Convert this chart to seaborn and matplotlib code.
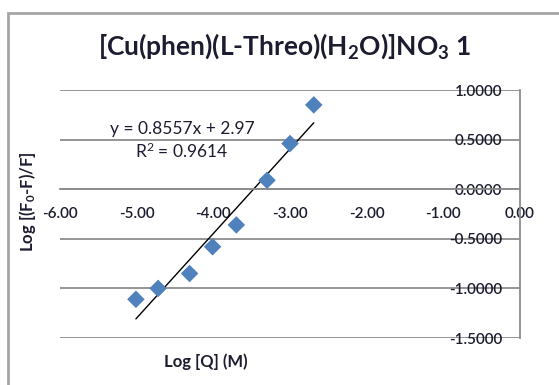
import matplotlib
matplotlib.use('Agg')
import matplotlib.pyplot as plt
import numpy as np
import pandas as pd
import seaborn as sns
from matplotlib.patches import Rectangle

# ─── Data ────────────────────────────────────────────────────────────────────
log_q = [-5.01, -4.72, -4.31, -4.01, -3.70, -3.30, -3.00, -2.69]
log_f = [-1.11, -1.00, -0.85, -0.58, -0.36, 0.09, 0.46, 0.85]
x_ticks = [-6.0, -5.0, -4.0, -3.0, -2.0, -1.0, 0.0]
y_ticks = [-1.5, -1.0, -0.5, 0.0, 0.5, 1.0]
equation = 'y = 0.8557x + 2.97'
r_squared = 'R$^2$ = 0.9614'

df = pd.DataFrame({'logQ': log_q, 'logF': log_f})

sns.set_style('white')
plt.rcParams['font.family'] = ['Lato', 'DejaVu Sans']
plt.rcParams['mathtext.default'] = 'regular'
text_col = '#1c1c30'
grid_col = '#8c8c8c'

fig = plt.figure(figsize=(5.59, 3.85), dpi=100)
ax = fig.add_axes([60 / 559, 1 - 338 / 385, 460 / 559, 248 / 385])

# chart-area border (runs off the right and bottom edges)
fig.patches.append(Rectangle((8 / 559, -0.1), 1.2, 1 - 13 / 385 + 0.1,
                             transform=fig.transFigure, fill=False,
                             edgecolor='#a6a6a6', lw=2, zorder=0))

sns.regplot(data=df, x='logQ', y='logF', scatter=False, ci=None, truncate=True,
            color='black', line_kws={'lw': 1}, ax=ax)
sns.scatterplot(data=df, x='logQ', y='logF', marker='D', s=80, color='#4f81bd',
                edgecolor='none', ax=ax, zorder=3)

ax.set_xlim(-6, 0)
ax.set_ylim(-1.5, 1.0)
ax.set_xticks(x_ticks)
ax.set_yticks(y_ticks)
ax.set_xticklabels([f'{v:.2f}' for v in x_ticks])
ax.set_yticklabels([f'{v:.4f}' for v in y_ticks])

for s in ['top', 'right']:
    ax.spines[s].set_visible(False)
ax.spines['bottom'].set_position(('data', 0))
ax.spines['left'].set_position(('data', 0))
for s in ['bottom', 'left']:
    ax.spines[s].set_color(grid_col)
    ax.spines[s].set_linewidth(1.3)

ax.yaxis.grid(True, color=grid_col, lw=1.3)
ax.set_axisbelow(True)
ax.tick_params(axis='x', direction='out', length=5, width=1.3, color=grid_col,
               labelsize=11, labelcolor=text_col, pad=8)
ax.tick_params(axis='y', length=0, labelsize=11, labelcolor=text_col, pad=13)
for lbl in ax.get_xticklabels() + ax.get_yticklabels():
    lbl.set_fontweight('semibold')

ax.set_xlabel('')
ax.set_ylabel('')
fig.text(206 / 559, 1 - 362 / 385, 'Log [Q] (M)', ha='center', va='center',
         fontsize=12, fontweight='bold', color=text_col)
fig.text(27 / 559, 1 - 202 / 385, 'Log [(F$_0$-F)/F]', ha='center', va='center',
         rotation=90, fontsize=12, fontweight='bold', color=text_col)
fig.text(285 / 559, 1 - 46 / 385,
         '[Cu(phen)(L-Threo)(H$_2$O)]NO$_3$ 1', ha='center', va='center',
         fontsize=19, fontweight='bold', color=text_col)

fig.text(182 / 559, 1 - 129 / 385, equation, ha='center', va='center',
         fontsize=12.5, color=text_col)
fig.text(182 / 559, 1 - 151 / 385, r_squared, ha='center', va='center',
         fontsize=12.5, color=text_col)

fig.savefig('out.png', dpi=100)
